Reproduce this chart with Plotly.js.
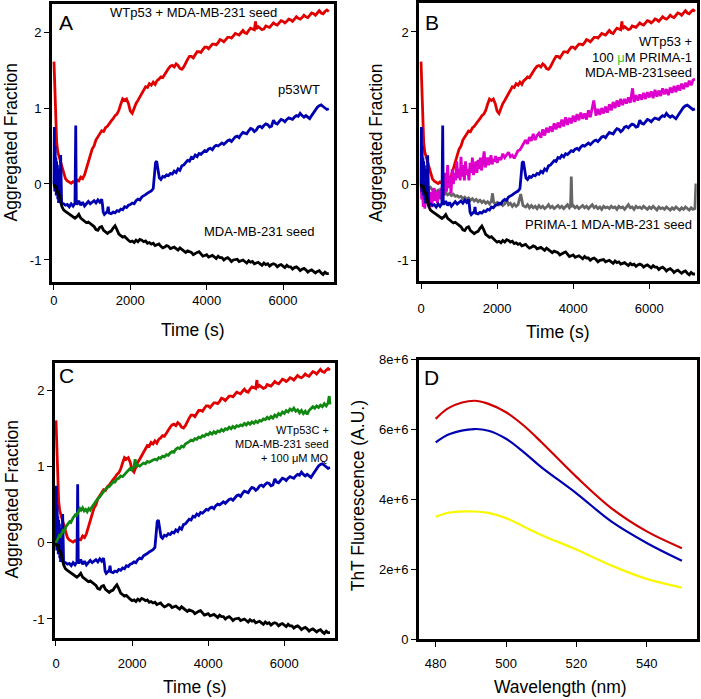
<!DOCTYPE html>
<html>
<head>
<meta charset="utf-8">
<script src="https://cdn.plot.ly/plotly-3.0.1.min.js"></script>
<style>html,body{margin:0;padding:0;background:#fff;}#chart{width:701px;height:699px;}</style>
</head>
<body>
<div id="chart"></div>
<script>
// ---------- DATA ----------
// Time courses shared by panels A, B and C
const redT = [0,20,40,70,100,150,200,250,300,350,400,450,500,550,600,650,700,750,800,850,900,950,1000,1050,1100,1150,1200,1250,1300,1350,1400,1450,1500,1550,1600,1650,1700,1750,1800,1850,1900,1950,2000,2050,2100,2150,2200,2250,2300,2350,2400,2450,2500,2550,2600,2650,2700,2750,2800,2850,2900,2950,3000,3050,3100,3150,3200,3250,3300,3350,3400,3450,3500,3550,3600,3650,3700,3750,3800,3850,3900,3950,4000,4050,4100,4150,4200,4250,4300,4350,4400,4450,4500,4550,4600,4650,4700,4750,4800,4850,4900,4950,5000,5050,5100,5150,5200,5250,5280,5300,5350,5400,5450,5500,5550,5600,5650,5700,5750,5800,5850,5900,5950,6000,6050,6100,6150,6200,6250,6300,6350,6400,6450,6500,6550,6600,6650,6700,6750,6800,6850,6900,6950,7000,7050,7100,7150,7200];
const redV = [1.61,1.2,0.8,0.55,0.42,0.33,0.24,0.15,0.07,0.04,0.02,0.01,0.03,0.02,0.05,0.04,0.09,0.07,0.12,0.2,0.3,0.38,0.46,0.5,0.58,0.62,0.66,0.7,0.69,0.74,0.76,0.8,0.83,0.86,0.9,0.92,0.97,1.05,1.12,1.1,1.12,1.06,0.96,0.93,1.0,1.06,1.1,1.15,1.2,1.25,1.28,1.27,1.32,1.3,1.34,1.31,1.36,1.38,1.41,1.4,1.45,1.48,1.52,1.55,1.56,1.54,1.58,1.56,1.52,1.51,1.54,1.6,1.64,1.68,1.68,1.66,1.7,1.74,1.74,1.73,1.77,1.8,1.8,1.78,1.81,1.84,1.84,1.83,1.86,1.9,1.89,1.87,1.9,1.93,1.93,1.92,1.95,1.98,1.97,1.96,1.99,2.02,1.99,1.98,2.02,2.05,2.04,2.03,2.14,2.04,2.07,2.05,2.03,2.04,2.08,2.07,2.06,2.09,2.12,2.1,2.09,2.12,2.15,2.14,2.12,2.14,2.17,2.16,2.14,2.17,2.2,2.18,2.17,2.19,2.22,2.2,2.19,2.22,2.25,2.24,2.22,2.25,2.28,2.25,2.24,2.27,2.29,2.27];

const blueT = [0,10,20,30,40,50,60,70,80,90,100,110,120,130,140,150,160,175,190,200,250,300,350,400,450,500,550,570,585,600,650,700,750,800,850,900,950,1000,1050,1100,1150,1200,1250,1270,1290,1320,1350,1400,1420,1440,1500,1550,1600,1650,1700,1750,1800,1850,1900,1950,2000,2050,2100,2150,2200,2250,2300,2350,2400,2450,2500,2550,2600,2630,2660,2690,2720,2760,2800,2850,2900,2950,3000,3050,3100,3150,3200,3250,3300,3350,3400,3450,3500,3550,3600,3650,3700,3750,3800,3850,3900,3950,4000,4050,4100,4150,4200,4250,4300,4350,4400,4450,4500,4550,4600,4650,4700,4750,4800,4850,4900,4950,5000,5050,5100,5150,5200,5250,5300,5350,5400,5450,5500,5550,5600,5650,5700,5750,5800,5850,5900,5950,6000,6050,6100,6150,6200,6250,6300,6350,6400,6450,6500,6550,6600,6650,6700,6750,6800,6850,6900,6950,7000,7050,7100,7150,7200];
const blueV = [0.0,0.75,-0.1,0.5,0.05,0.35,-0.15,0.3,-0.05,0.25,-0.2,0.1,-0.25,0.2,-0.22,0.08,-0.2,0.38,-0.22,-0.25,-0.26,-0.28,-0.27,-0.3,-0.26,-0.29,-0.25,0.77,-0.25,-0.27,-0.22,-0.28,-0.24,-0.29,-0.26,-0.23,-0.26,-0.24,-0.22,-0.25,-0.21,-0.24,-0.2,-0.27,-0.37,-0.4,-0.38,-0.36,-0.3,-0.38,-0.39,-0.37,-0.38,-0.35,-0.36,-0.33,-0.34,-0.3,-0.31,-0.28,-0.27,-0.25,-0.26,-0.22,-0.2,-0.21,-0.17,-0.16,-0.14,-0.12,-0.11,-0.09,-0.06,0.1,0.28,0.3,0.2,0.08,0.06,0.1,0.09,0.12,0.11,0.14,0.13,0.17,0.15,0.2,0.18,0.24,0.25,0.28,0.31,0.3,0.35,0.34,0.38,0.36,0.4,0.39,0.42,0.44,0.43,0.46,0.47,0.45,0.49,0.51,0.5,0.52,0.54,0.52,0.55,0.57,0.58,0.56,0.59,0.62,0.63,0.61,0.65,0.68,0.67,0.66,0.7,0.73,0.72,0.69,0.71,0.75,0.76,0.74,0.77,0.79,0.78,0.75,0.76,0.84,0.8,0.79,0.82,0.85,0.84,0.82,0.85,0.87,0.86,0.85,0.88,0.9,0.89,0.93,0.9,0.88,0.9,0.88,0.86,0.9,0.94,0.98,1.01,1.03,1.04,1.02,1.0,0.98,0.99];

const blackT = [0,30,60,90,120,150,180,210,250,300,350,400,450,500,550,600,650,700,750,800,850,900,950,1000,1050,1100,1150,1200,1250,1300,1350,1400,1450,1500,1550,1600,1650,1700,1750,1800,1850,1900,1950,2000,2050,2100,2150,2200,2250,2300,2350,2400,2450,2500,2550,2600,2650,2700,2750,2800,2850,2900,2950,3000,3050,3100,3150,3200,3250,3300,3350,3400,3450,3500,3550,3600,3650,3700,3750,3800,3850,3900,3950,4000,4050,4100,4150,4200,4250,4300,4350,4400,4450,4500,4550,4600,4650,4700,4750,4800,4850,4900,4950,5000,5050,5100,5150,5200,5250,5300,5350,5400,5450,5500,5550,5600,5650,5700,5750,5800,5850,5900,5950,6000,6050,6100,6150,6200,6250,6300,6350,6400,6450,6500,6550,6600,6650,6700,6750,6800,6850,6900,6950,7000,7050,7100,7150,7200];
const blackV = [0.0,-0.05,-0.02,-0.12,-0.1,-0.2,-0.25,-0.3,-0.34,-0.36,-0.38,-0.4,-0.42,-0.44,-0.45,-0.43,-0.4,-0.45,-0.47,-0.5,-0.51,-0.5,-0.52,-0.54,-0.56,-0.6,-0.61,-0.57,-0.56,-0.61,-0.63,-0.65,-0.63,-0.62,-0.58,-0.55,-0.6,-0.66,-0.68,-0.7,-0.69,-0.72,-0.74,-0.76,-0.75,-0.77,-0.74,-0.76,-0.73,-0.74,-0.76,-0.75,-0.78,-0.77,-0.79,-0.78,-0.81,-0.8,-0.79,-0.82,-0.84,-0.83,-0.81,-0.82,-0.85,-0.84,-0.83,-0.85,-0.87,-0.84,-0.86,-0.87,-0.9,-0.88,-0.89,-0.9,-0.93,-0.91,-0.9,-0.89,-0.92,-0.95,-0.94,-0.93,-0.96,-0.95,-0.94,-0.96,-0.98,-0.95,-0.97,-0.97,-1.0,-0.98,-0.97,-0.99,-1.02,-1.0,-0.99,-0.99,-1.02,-1.01,-1.0,-1.02,-1.04,-1.01,-1.03,-1.02,-1.05,-1.04,-1.03,-1.05,-1.07,-1.04,-1.06,-1.05,-1.08,-1.06,-1.05,-1.06,-1.09,-1.07,-1.06,-1.08,-1.1,-1.07,-1.09,-1.09,-1.12,-1.1,-1.09,-1.11,-1.14,-1.12,-1.11,-1.13,-1.16,-1.14,-1.13,-1.15,-1.17,-1.15,-1.14,-1.17,-1.19,-1.16,-1.18,-1.18];

// Panel B extra series
const magentaT = [0,20,40,60,80,100,130,160,190,220,250,280,310,340,370,400,430,460,490,520,550,580,610,640,670,700,730,760,790,820,850,880,910,940,970,1000,1030,1050,1080,1110,1140,1170,1200,1230,1260,1290,1320,1350,1380,1410,1440,1470,1500,1530,1560,1590,1620,1660,1690,1720,1750,1780,1810,1840,1870,1900,1930,1960,2000,2050,2100,2150,2200,2250,2300,2350,2400,2450,2500,2550,2600,2650,2700,2750,2800,2850,2900,2950,3000,3050,3100,3150,3200,3250,3300,3350,3400,3450,3500,3550,3600,3650,3700,3750,3800,3850,3900,3950,4000,4050,4100,4150,4200,4250,4300,4350,4400,4450,4540,4600,4650,4700,4750,4800,4850,4900,4950,5000,5050,5100,5150,5200,5250,5300,5350,5400,5450,5500,5560,5600,5650,5700,5750,5800,5850,5900,5950,6000,6050,6100,6150,6200,6250,6300,6350,6400,6450,6500,6550,6600,6650,6700,6750,6800,6850,6900,6950,7000,7050,7100,7150,7200];
const magentaV = [0.0,-0.2,-0.1,-0.3,-0.15,-0.32,-0.12,-0.25,-0.05,-0.28,-0.1,-0.3,-0.15,-0.05,-0.22,-0.1,-0.25,-0.08,-0.2,-0.05,-0.18,0.0,-0.15,0.15,-0.1,0.25,-0.05,0.1,-0.12,0.2,0.0,0.15,0.05,0.3,0.08,0.2,0.05,0.36,0.1,0.25,0.05,0.3,0.12,0.2,0.05,0.28,0.15,0.35,0.12,0.22,0.3,0.15,0.32,0.2,0.35,0.18,0.3,0.43,0.22,0.28,0.35,0.25,0.3,0.38,0.26,0.33,0.3,0.37,0.28,0.35,0.32,0.4,0.35,0.38,0.42,0.36,0.38,0.34,0.4,0.44,0.45,0.5,0.55,0.58,0.53,0.62,0.57,0.66,0.58,0.64,0.67,0.61,0.72,0.64,0.74,0.68,0.76,0.69,0.8,0.72,0.81,0.74,0.85,0.76,0.88,0.78,0.87,0.8,0.9,0.82,0.92,0.84,0.94,0.86,0.93,0.85,0.97,0.88,1.1,0.9,0.99,0.91,1.0,0.93,1.02,0.94,1.05,0.97,1.08,1.0,1.1,1.02,1.12,1.04,1.12,1.06,1.14,1.07,1.26,1.08,1.17,1.1,1.18,1.11,1.2,1.12,1.21,1.14,1.22,1.13,1.24,1.15,1.23,1.16,1.26,1.18,1.25,1.17,1.27,1.2,1.29,1.21,1.3,1.23,1.32,1.25,1.33,1.28,1.36,1.3,1.37,1.38];

const grayT = [0,50,100,150,200,250,300,350,400,450,500,550,600,650,700,750,800,850,900,950,1000,1050,1100,1150,1200,1250,1300,1350,1400,1450,1500,1550,1600,1650,1700,1750,1800,1850,1880,1910,1950,2000,2050,2100,2150,2200,2250,2300,2350,2400,2450,2500,2550,2620,2680,2750,2800,2850,2900,2950,3000,3050,3100,3150,3200,3250,3300,3350,3400,3450,3500,3550,3600,3650,3700,3750,3800,3850,3900,3930,3950,3970,4000,4050,4100,4150,4200,4250,4300,4350,4400,4450,4500,4550,4600,4650,4700,4750,4800,4850,4900,4950,5000,5050,5100,5150,5200,5250,5300,5350,5400,5450,5500,5550,5600,5650,5700,5750,5800,5850,5900,5950,6000,6050,6100,6150,6200,6250,6300,6350,6400,6450,6500,6550,6600,6650,6700,6750,6800,6850,6900,6950,7000,7050,7100,7150,7200,7225];
const grayV = [0.03,0.0,-0.03,-0.05,-0.06,-0.04,-0.08,-0.07,-0.1,-0.08,-0.11,-0.1,-0.12,-0.11,-0.14,-0.12,-0.15,-0.13,-0.16,-0.15,-0.17,-0.16,-0.19,-0.17,-0.2,-0.18,-0.21,-0.19,-0.22,-0.2,-0.23,-0.21,-0.24,-0.22,-0.25,-0.23,-0.26,-0.22,-0.12,-0.24,-0.26,-0.24,-0.27,-0.25,-0.28,-0.26,-0.2,-0.27,-0.25,-0.29,-0.26,-0.29,-0.27,-0.13,-0.28,-0.3,-0.27,-0.31,-0.28,-0.31,-0.29,-0.32,-0.28,-0.31,-0.29,-0.32,-0.3,-0.27,-0.31,-0.29,-0.32,-0.3,-0.28,-0.31,-0.29,-0.32,-0.3,-0.27,-0.31,-0.29,0.1,-0.3,-0.28,-0.31,-0.29,-0.32,-0.3,-0.28,-0.31,-0.29,-0.32,-0.3,-0.27,-0.31,-0.29,-0.32,-0.3,-0.33,-0.29,-0.31,-0.3,-0.32,-0.29,-0.31,-0.3,-0.33,-0.29,-0.31,-0.3,-0.33,-0.3,-0.27,-0.31,-0.3,-0.33,-0.29,-0.31,-0.3,-0.32,-0.29,-0.31,-0.33,-0.3,-0.32,-0.29,-0.31,-0.34,-0.3,-0.32,-0.31,-0.33,-0.3,-0.32,-0.34,-0.31,-0.33,-0.3,-0.32,-0.34,-0.31,-0.33,-0.3,-0.32,-0.34,-0.31,-0.33,-0.32,0.01];

// Panel C extra series
const greenT = [0,30,60,90,120,150,180,210,240,270,300,330,360,390,420,450,480,510,540,570,600,630,660,700,740,780,820,860,900,940,980,1020,1060,1100,1140,1180,1220,1260,1300,1350,1400,1450,1500,1550,1600,1650,1700,1750,1800,1850,1900,1950,2000,2050,2080,2120,2150,2200,2250,2300,2350,2400,2450,2500,2550,2600,2650,2700,2750,2800,2850,2900,2950,3000,3050,3100,3150,3200,3250,3300,3350,3400,3450,3500,3550,3600,3650,3700,3750,3800,3850,3900,3950,4000,4050,4100,4150,4200,4250,4300,4350,4400,4450,4500,4550,4600,4650,4700,4750,4800,4850,4900,4950,5000,5050,5100,5150,5200,5250,5300,5350,5400,5450,5500,5550,5600,5650,5700,5750,5800,5850,5900,5950,6000,6050,6100,6150,6200,6250,6300,6350,6400,6450,6500,6550,6600,6650,6700,6750,6800,6850,6900,6950,7000,7050,7100,7150,7180,7200];
const greenV = [0.0,0.04,0.06,0.1,0.09,0.13,0.16,0.15,0.2,0.22,0.24,0.26,0.28,0.27,0.31,0.33,0.35,0.37,0.36,0.4,0.42,0.45,0.43,0.46,0.42,0.44,0.41,0.45,0.43,0.47,0.5,0.52,0.55,0.58,0.6,0.63,0.66,0.68,0.7,0.73,0.74,0.77,0.8,0.8,0.84,0.85,0.88,0.87,0.9,0.92,0.95,0.98,0.96,1.0,1.1,1.0,1.02,1.01,1.03,1.05,1.04,1.07,1.06,1.08,1.09,1.1,1.09,1.12,1.11,1.14,1.13,1.16,1.15,1.18,1.2,1.19,1.23,1.25,1.24,1.27,1.26,1.3,1.31,1.33,1.35,1.34,1.37,1.36,1.39,1.38,1.41,1.4,1.43,1.42,1.45,1.43,1.46,1.44,1.47,1.46,1.49,1.47,1.5,1.49,1.52,1.5,1.53,1.51,1.54,1.53,1.55,1.54,1.57,1.55,1.58,1.56,1.59,1.57,1.6,1.58,1.61,1.6,1.63,1.62,1.65,1.63,1.66,1.64,1.68,1.66,1.7,1.68,1.72,1.7,1.74,1.72,1.76,1.74,1.77,1.73,1.75,1.71,1.74,1.7,1.73,1.69,1.74,1.76,1.79,1.77,1.8,1.78,1.81,1.79,1.83,1.8,1.84,1.93,1.82];

// Panel D: ThT emission spectra
const wavelength = [480,484,491,495,500,505,510,520,530,540,550];
const spectrumRed = [6.30e6,6.63e6,6.82e6,6.73e6,6.49e6,6.11e6,5.64e6,4.64e6,3.74e6,3.08e6,2.60e6];
const spectrumBlue = [5.63e6,5.87e6,6.01e6,5.96e6,5.73e6,5.35e6,4.92e6,4.17e6,3.36e6,2.75e6,2.24e6];
const spectrumYellow = [3.50e6,3.62e6,3.65e6,3.61e6,3.46e6,3.22e6,2.98e6,2.56e6,2.10e6,1.72e6,1.47e6];

// Tick labels
const timeTicks = [0,2000,4000,6000];
const timeTickText = ['0','2000','4000','6000'];
const fracTicks = [-1,0,1,2];
const fracTickText = ['-1','0','1','2'];
const wlTicks = [480,500,520,540];
const wlTickText = ['480','500','520','540'];
const fluoTicks = [0,2e6,4e6,6e6,8e6];
const fluoTickText = ['0','2e+6','4e+6','6e+6','8e+6'];

// ---------- STYLE ----------
const W = 701, H = 699;
const FONT = 'Liberation Sans, Arial, Helvetica, sans-serif';
const C_RED = '#e00000', C_BLUE = '#0000b0', C_BLACK = '#000000',
      C_MAG = '#dd00cc', C_GRAY = '#666666', C_GREEN = '#118811';
const PX = x => x / W;
const PY = y => 1 - y / H;

function line(x, y, color, xa, ya, width, shape) {
  return {x: x, y: y, type: 'scatter', mode: 'lines', xaxis: xa, yaxis: ya,
          line: {color: color, width: width || 2.8, shape: shape || 'linear'},
          hoverinfo: 'skip', showlegend: false};
}

const traces = [
  // A
  line(redT, redV, C_RED, 'x', 'y'),
  line(blueT, blueV, C_BLUE, 'x', 'y'),
  line(blackT, blackV, C_BLACK, 'x', 'y'),
  // B
  line(redT, redV, C_RED, 'x2', 'y2'),
  line(grayT, grayV, C_GRAY, 'x2', 'y2'),
  line(magentaT, magentaV, C_MAG, 'x2', 'y2'),
  line(blueT, blueV, C_BLUE, 'x2', 'y2'),
  line(blackT, blackV, C_BLACK, 'x2', 'y2'),
  // C
  line(redT, redV, C_RED, 'x3', 'y3'),
  line(blueT, blueV, C_BLUE, 'x3', 'y3'),
  line(blackT, blackV, C_BLACK, 'x3', 'y3'),
  line(greenT, greenV, C_GREEN, 'x3', 'y3'),
  // D
  line(wavelength, spectrumRed, '#d00000', 'x4', 'y4', 2.2, 'spline'),
  line(wavelength, spectrumBlue, '#0000b0', 'x4', 'y4', 2.2, 'spline'),
  line(wavelength, spectrumYellow, '#f8f800', 'x4', 'y4', 2.2, 'spline')
];

function axis(domain, range, tv, tt, anchor, standoff) {
  const a = {
    domain: domain, range: range, anchor: anchor,
    tickmode: 'array', tickvals: tv, ticktext: tt,
    ticks: 'outside', ticklen: 5, tickwidth: 1, tickcolor: '#000',
    showline: true, linewidth: 3, linecolor: '#000', mirror: true,
    showgrid: false, zeroline: false,
    tickfont: {family: FONT, size: 13, color: '#000'},
    fixedrange: true
  };
  if (standoff) a.ticklabelstandoff = standoff;
  return a;
}

const layout = {
  width: W, height: H,
  margin: {l: 0, r: 0, t: 0, b: 0, pad: 0},
  paper_bgcolor: '#fff', plot_bgcolor: '#fff',
  font: {family: FONT, color: '#000'},
  showlegend: false,
  xaxis:  axis([PX(52), PX(333.5)], [-52, 7323], timeTicks, timeTickText, 'y'),
  yaxis:  axis([PY(281.5), PY(3.5)], [-1.283, 2.375], fracTicks, fracTickText, 'x'),
  xaxis2: axis([PX(419.3), PX(696.7)], [-45, 7246], timeTicks, timeTickText, 'y2', 8),
  yaxis2: axis([PY(281), PY(3.3)], [-1.272, 2.377], fracTicks, fracTickText, 'x2'),
  xaxis3: axis([PX(55), PX(335)], [-26, 7332], timeTicks, timeTickText, 'y3', 7),
  yaxis3: axis([PY(637.7), PY(362.7)], [-1.246, 2.368], fracTicks, fracTickText, 'x3'),
  xaxis4: axis([PX(419), PX(696.7)], [475.25, 554.2], wlTicks, wlTickText, 'y4', 5),
  yaxis4: axis([PY(639), PY(359.5)], [0, 8e6], fluoTicks, fluoTickText, 'x4'),
  annotations: []
};

function note(text, x, y, size, xanchor, angle) {
  layout.annotations.push({
    text: text, xref: 'paper', yref: 'paper', x: PX(x), y: PY(y),
    xanchor: xanchor || 'center', yanchor: 'middle', showarrow: false,
    textangle: angle || 0, font: {family: FONT, size: size, color: '#000'}
  });
}

// axis titles
note('Aggregated Fraction', 10, 142.5, 17.5, 'center', -90);
note('Time (s)', 192.5, 330, 17.5);
note('Aggregated Fraction', 375.5, 142.5, 17.5, 'center', -90);
note('Time (s)', 558, 332, 17.5);
note('Aggregated Fraction', 11.5, 499, 17.5, 'center', -90);
note('Time (s)', 195, 686.7, 17.5);
note('ThT Fluorescence (A.U.)', 358.3, 496, 17.5, 'center', -90);
note('Wavelength (nm)', 560, 686.7, 17.5);

// panel letters
note('A', 66, 22.5, 21);
note('B', 431.5, 22.5, 21);
note('C', 66.7, 375.5, 21);
note('D', 432, 377, 21);

// panel A labels
note('WTp53 + MDA-MB-231 seed', 193.3, 13, 13);
note('p53WT', 322, 90, 13, 'right');
note('MDA-MB-231 seed', 316.5, 231, 13, 'right');

// panel B labels
note('WTp53 +', 693.5, 41.7, 13, 'right');
note('100 <span style="color:#33cc33">\u03bc</span>M PRIMA-1', 693.5, 57.3, 13, 'right');
note('MDA-MB-231seed', 693.5, 72.7, 13, 'right');
note('PRIMA-1 MDA-MB-231 seed', 693.5, 224, 13, 'right');

// panel C labels
note('WTp53C +', 331, 430, 11, 'right');
note('MDA-MB-231 seed', 331, 444.2, 11, 'right');
note('+ 100 \u03bcM MQ', 331, 458.3, 11, 'right');

Plotly.newPlot('chart', traces, layout, {staticPlot: true, displayModeBar: false});
</script>
</body>
</html>
